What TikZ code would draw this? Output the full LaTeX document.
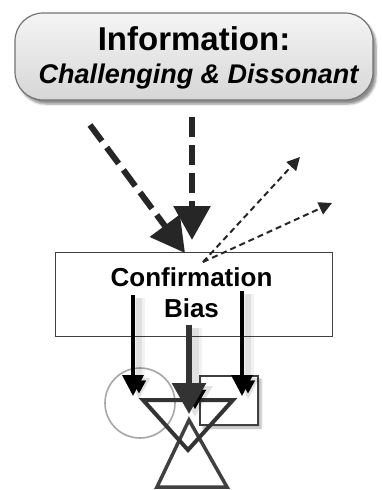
\documentclass[tikz,border=0pt]{standalone}
\usepackage{fontspec}
\setmainfont{Liberation Sans}
\usetikzlibrary{arrows.meta,shadows.blur}
\begin{document}
\begin{tikzpicture}[x=1pt,y=-1pt,
  titlebox/.style={draw=black!55, line width=1.2pt, rounded corners=28pt,
    top color=black!4, bottom color=black!16,
    blur shadow={shadow xshift=3pt, shadow yshift=-4pt, shadow blur steps=6, shadow opacity=45}},
  biasbox/.style={draw=black!75, line width=0.8pt, fill=white},
  bigdash/.style={draw=black!85, line width=6pt, dash pattern=on 20pt off 8pt,
    -{Triangle[length=34pt,width=36pt]}},
  thindash/.style={draw=black!85, line width=2pt, dash pattern=on 6pt off 4pt,
    -{Triangle[length=13pt,width=13pt]}},
  push/.style={draw=black, line width=3.5pt, -{Triangle[length=21pt,width=21pt]},
    preaction={draw=black, draw opacity=.05, line width=12pt,
      transform canvas={shift={(6pt,-3pt)}}},
    preaction={draw=black, draw opacity=.07, line width=6pt,
      transform canvas={shift={(6pt,-3pt)}}}},
  pushmain/.style={draw=black!80, line width=6pt, -{Triangle[length=31pt,width=33pt]},
    preaction={draw=black, draw opacity=.05, line width=13pt,
      transform canvas={shift={(6pt,-3pt)}}},
    preaction={draw=black, draw opacity=.07, line width=8pt,
      transform canvas={shift={(6pt,-3pt)}}}},
  txt/.style={anchor=base, inner sep=0pt}
]
\useasboundingbox (0,0) rectangle (382,490);

% heading panel
\node[titlebox, minimum width=358pt, minimum height=87pt] (info) at (194,56.5) {};
\node[txt, font=\bfseries\fontsize{33}{36}\selectfont] (infoA) at (194,50) {Information:};
\node[txt, font=\bfseries\itshape\fontsize{27}{30}\selectfont] (infoB) at (198.5,83) {Challenging \& Dissonant};

% bias panel
\node[biasbox, minimum width=277pt, minimum height=84pt] (bias) at (193.5,294) {};
\node[txt, font=\bfseries\fontsize{26}{30}\selectfont] (biasA) at (191.5,286) {Confirmation};
\node[txt, font=\bfseries\fontsize{26}{30}\selectfont] (biasB) at (191.5,317) {Bias};

% incoming and deflected information
\coordinate (inL) at (90,125);
\coordinate (inM) at (192,117);
\coordinate (hitL) at (185,253);
\coordinate (hitM) at (192,240);
\coordinate (src) at (203,262);
\coordinate (outA) at (300,157);
\coordinate (outB) at (332,203);
\draw[bigdash] (inL) -- (hitL);
\draw[bigdash] (inM) -- (hitM);
\draw[thindash] (src) -- (outA);
\draw[thindash] (src) -- (outB);

% shapes below
\node[circle, draw=black!35, line width=1.6pt, minimum size=70pt, inner sep=0pt] (circ) at (140,403) {};
\node[draw=black!75, fill=white, line width=2.2pt, minimum width=58pt, minimum height=49pt, inner sep=0pt,
  blur shadow={shadow xshift=3pt, shadow yshift=-3pt, shadow blur steps=5, shadow opacity=30}] (sq) at (229,400.5) {};
\coordinate (dA) at (143,400);
\coordinate (dB) at (233,400);
\coordinate (dC) at (188,450);
\coordinate (uA) at (189,420);
\coordinate (uB) at (227,487);
\coordinate (uC) at (157,487);
\draw[draw=black!75, line width=3.5pt, line join=miter] (uA) -- (uB) -- (uC) -- cycle;
\draw[draw=black!80, line width=4pt, line join=miter] (dA) -- (dB) -- (dC) -- cycle;

% outgoing arrows from the bias panel
\coordinate (sL) at (133,295);
\coordinate (sM) at (189,325);
\coordinate (sR) at (242,291);
\coordinate (eL) at (133,396);
\coordinate (eM) at (189,414);
\coordinate (eR) at (242,396);
\draw[push] (sL) -- (eL);
\draw[push] (sR) -- (eR);
\draw[pushmain] (sM) -- (eM);
\end{tikzpicture}
\end{document}
